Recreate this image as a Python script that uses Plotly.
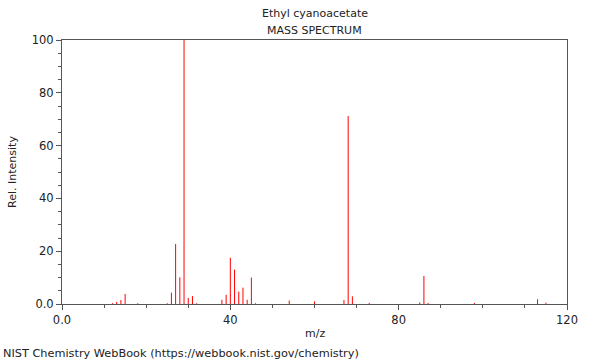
import plotly.graph_objects as go

# m/z values and relative intensities
mz = [12, 13, 14, 15, 18, 25, 26, 27, 28, 29, 30, 31, 32, 38, 39, 40, 41, 42, 43,
      44, 45, 46, 54, 60, 67, 68, 69, 73, 85, 86, 87, 98, 113, 115]
intensity = [0.3, 0.8, 1.5, 3.8, 0.3, 0.3, 4.3, 22.7, 10.1, 100, 2.3, 3.0, 0.3, 1.6,
             3.5, 17.5, 13.0, 4.7, 6.2, 1.6, 10.0, 0.3, 1.3, 1.0, 1.5, 71.2, 2.9, 0.4,
             0.6, 10.6, 0.4, 0.4, 1.8, 0.5]

x_tickvals = [0, 40, 80, 120]
x_ticktext = ["0.0", "40", "80", "120"]
y_tickvals = [0, 20, 40, 60, 80, 100]
y_ticktext = ["0.0", "20", "40", "60", "80", "100"]

xs, ys = [], []
for m, v in zip(mz, intensity):
    xs += [m, m, None]
    ys += [0, v, None]

FONT = "DejaVu Sans"
AX = "#555555"

fig = go.Figure()
fig.add_trace(go.Scatter(x=xs, y=ys, mode="lines",
                         line=dict(color="rgb(255,0,0)", width=1),
                         hoverinfo="skip", showlegend=False))

fig.update_layout(
    width=600, height=360,
    margin=dict(l=62, r=33, t=40, b=56),
    paper_bgcolor="white", plot_bgcolor="white",
    font=dict(family=FONT, size=11, color="#222222"),
    showlegend=False,
)
fig.update_xaxes(
    range=[0, 120], showgrid=False, zeroline=False, automargin=False,
    showline=True, linecolor=AX, linewidth=1, mirror=True,
    tickmode="array", tickvals=x_tickvals, ticktext=x_ticktext,
    ticks="outside", ticklen=5, tickcolor=AX,
    minor=dict(tickmode="linear", tick0=0, dtick=10, ticks="outside",
               ticklen=3, tickcolor=AX, showgrid=False),
    tickfont=dict(size=11.5),
)
fig.update_yaxes(
    range=[0, 100], showgrid=False, zeroline=False, automargin=False,
    showline=True, linecolor=AX, linewidth=1, mirror=True,
    tickmode="array", tickvals=y_tickvals, ticktext=y_ticktext,
    ticks="outside", ticklen=5, tickcolor=AX,
    minor=dict(tickmode="linear", tick0=0, dtick=5, ticks="outside",
               ticklen=3, tickcolor=AX, showgrid=False),
    tickfont=dict(size=11.5),
    title=dict(text="Rel. Intensity", font=dict(size=11), standoff=12),
)

fig.add_annotation(text="Ethyl cyanoacetate", xref="paper", yref="paper",
                   x=0.5, y=1, yshift=27, xanchor="center", yanchor="middle",
                   showarrow=False, font=dict(size=11))
fig.add_annotation(text="MASS SPECTRUM", xref="paper", yref="paper",
                   x=0.5, y=1, yshift=10, xanchor="center", yanchor="middle",
                   showarrow=False, font=dict(size=11))
fig.add_annotation(text="m/z", xref="paper", yref="paper",
                   x=0.5, y=0, yshift=-29, xanchor="center", yanchor="middle",
                   showarrow=False, font=dict(size=11))
fig.add_annotation(text="NIST Chemistry WebBook (https://webbook.nist.gov/chemistry)",
                   xref="paper", yref="paper", x=0, y=0, xshift=-61, yshift=-49,
                   xanchor="left", yanchor="middle", showarrow=False,
                   font=dict(size=11.3))

fig.write_html("out.html")
